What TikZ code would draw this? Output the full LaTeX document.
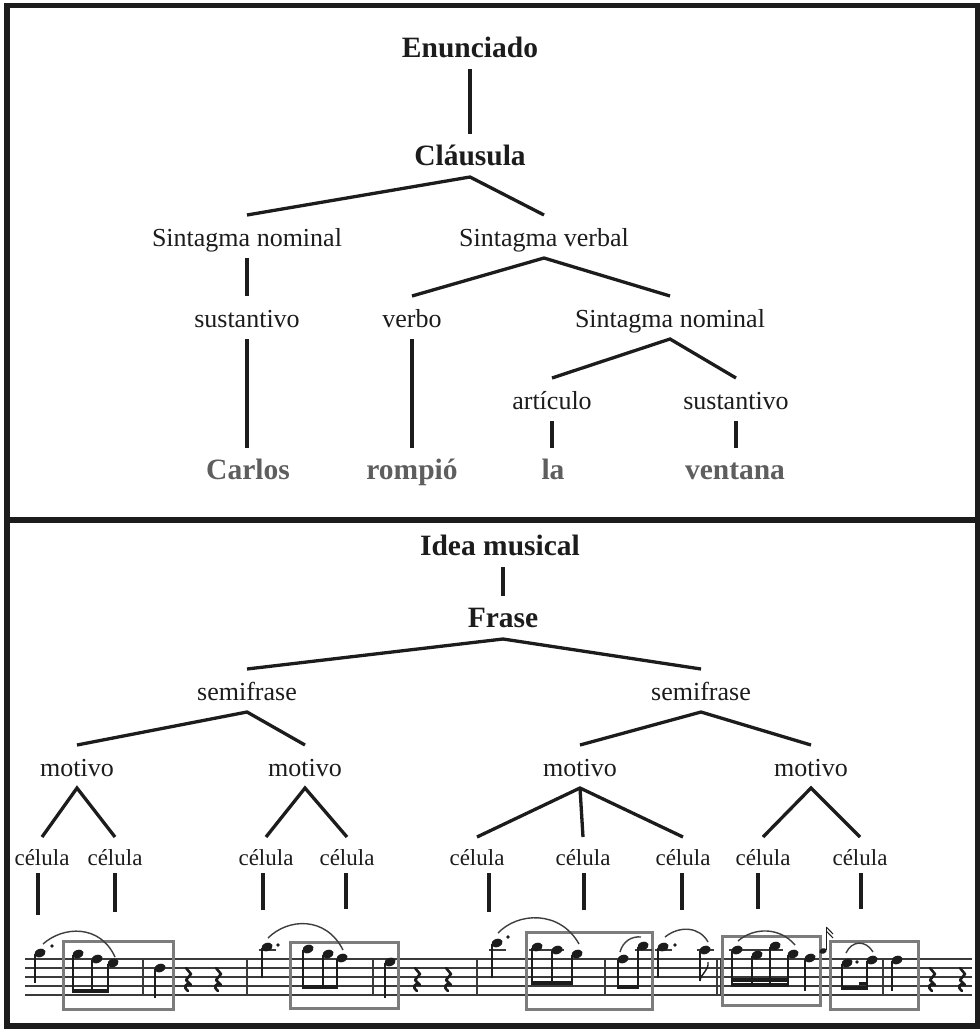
\documentclass[tikz,border=0pt]{standalone}
\usepackage{fontspec}
\setmainfont{Liberation Serif}
\definecolor{ink}{HTML}{1C1C1C}
\definecolor{wordgray}{HTML}{5E5E5E}
\definecolor{boxgray}{HTML}{7C7C7C}
\definecolor{staffgray}{HTML}{3A3A3A}
\newcommand\nhead[2]{\fill[ink,rotate around={20:(#1,#2)}] (#1,#2) ellipse [x radius=5.8pt, y radius=4.1pt];}
\newcommand\ghead[2]{\fill[ink,rotate around={20:(#1,#2)}] (#1,#2) ellipse [x radius=3.8pt, y radius=2.7pt];}
\newcommand\stemdn[3]{\draw[stemline] (#1-5.1,#2+0.5) -- (#1-5.1,#3);}
\newcommand\ndot[2]{\fill[ink] (#1,#2) circle (1.8pt);}
\newcommand\ledger[2]{\draw[staffline] (#1-8.5,#2) -- (#1+8.5,#2);}
\newcommand\qrest[1]{\draw[ink,line width=2.6pt,line join=round,line cap=round] (#1-2,968) -- (#1+3,974) -- (#1-2,980) -- (#1+3,985) .. controls (#1-3,982) and (#1-5,988) .. (#1,991);}
\begin{document}
\begin{tikzpicture}[x=1pt,y=-1pt,
  bt/.style={font=\fontsize{29.5}{31}\selectfont\bfseries, text=ink, anchor=base,
    text height=24pt, text depth=5pt, inner ysep=7pt, inner xsep=0pt, outer sep=0pt},
  rt/.style={font=\fontsize{26}{28}\selectfont, text=ink, anchor=base,
    text height=24pt, text depth=5pt, inner ysep=7pt, inner xsep=0pt, outer sep=0pt},
  gt/.style={bt, text=wordgray},
  ct/.style={font=\fontsize{23}{25}\selectfont, text=ink, anchor=base,
    text height=23pt, text depth=3pt, inner ysep=5pt, inner xsep=0pt, outer sep=0pt},
  edge/.style={draw=ink, line width=3.3pt},
  frame/.style={draw=ink, line width=5.5pt},
  staffline/.style={draw=staffgray, line width=1.1pt},
  barline/.style={draw=staffgray, line width=1.1pt},
  boxline/.style={draw=boxgray, line width=3pt},
  stemline/.style={draw=ink, line width=1.4pt},
  beamline/.style={draw=ink, line width=3.6pt},
  slur/.style={draw=ink!85, line width=1.4pt},
]
\useasboundingbox (0,0) rectangle (980,1029);
\fill[white] (0,0) rectangle (980,1029);
\draw[frame] (7,5.5) rectangle (977.5,1026);
\draw[frame] (7,520) -- (977.5,520);

% ---------- top tree ----------
\node[bt] (enun) at (470,57) {Enunciado};
\node[bt] (claus) at (470,165) {Cláusula};
\node[rt] (snl) at (247,246) {Sintagma nominal};
\node[rt] (sv) at (544,246) {Sintagma verbal};
\node[rt] (sust1) at (247,327) {sustantivo};
\node[rt] (verbo) at (412,327) {verbo};
\node[rt] (snr) at (670,327) {Sintagma nominal};
\node[rt] (art) at (552,409) {artículo};
\node[rt] (sust2) at (736,409) {sustantivo};
\node[gt] (carlos) at (248,479) {Carlos};
\node[gt] (rompio) at (412,479) {rompió};
\node[gt] (la) at (553,479) {la};
\node[gt] (ventana) at (735,479) {ventana};

\draw[edge] (enun.south) -- (claus.north);
\draw[edge] (snl.north) -- (claus.south) -- (sv.north);
\draw[edge] (snl.south) -- (sust1.north);
\draw[edge] (verbo.north) -- (sv.south) -- (snr.north);
\draw[edge] (art.north) -- (snr.south) -- (sust2.north);
\draw[edge] (sust1.south) -- (carlos.north -| sust1);
\draw[edge] (verbo.south) -- (rompio.north -| verbo);
\draw[edge] (art.south) -- (la.north -| art);
\draw[edge] (sust2.south) -- (ventana.north -| sust2);

% ---------- bottom tree ----------
\node[bt] (idea) at (500,555) {Idea musical};
\node[bt] (frase) at (503,627) {Frase};
\node[rt] (sf1) at (247,700) {semifrase};
\node[rt] (sf2) at (701,700) {semifrase};
\node[rt] (m1) at (77,776) {motivo};
\node[rt] (m2) at (305,776) {motivo};
\node[rt] (m3) at (580,776) {motivo};
\node[rt] (m4) at (811,776) {motivo};
\node[ct] (c1) at (42,865) {célula};
\node[ct] (c2) at (115,865) {célula};
\node[ct] (c3) at (266,865) {célula};
\node[ct] (c4) at (347,865) {célula};
\node[ct] (c5) at (477,865) {célula};
\node[ct] (c6) at (583,865) {célula};
\node[ct] (c7) at (683,865) {célula};
\node[ct] (c8) at (763,865) {célula};
\node[ct] (c9) at (860,865) {célula};

\draw[edge] (idea.south -| frase) -- (frase.north);
\draw[edge] (sf1.north) -- (frase.south) -- (sf2.north);
\draw[edge] (m1.north) -- (sf1.south) -- (m2.north);
\draw[edge] (m3.north) -- (sf2.south) -- (m4.north);
\draw[edge] (c1.north) -- (m1.south) -- (c2.north);
\draw[edge] (c3.north) -- (m2.south) -- (c4.north);
\draw[edge] (c5.north) -- (m3.south) -- (c7.north);
\draw[edge] (m3.south) -- (c6.north);
\draw[edge] (c8.north) -- (m4.south) -- (c9.north);

\coordinate (e1) at (38,915);
\coordinate (e2) at (115,912);
\coordinate (e3) at (263,910);
\coordinate (e4) at (346,909);
\coordinate (e5) at (489,912);
\coordinate (e6) at (584,910);
\coordinate (e7) at (682,910);
\coordinate (e8) at (758,909);
\coordinate (e9) at (861,909);
\foreach \i in {1,...,9} {\draw[edge] (c\i.south -| e\i) -- (e\i);}

% ---------- staff ----------
\foreach \y in {959,968,977,986,995} {\draw[staffline] (25,\y) -- (972,\y);}
\foreach \x in {143,247,373,477,605,717,720.5,883} {\draw[barline] (\x,959) -- (\x,995);}

% boxes
\draw[boxline] (63,941) rectangle (173,1009);
\draw[boxline] (290,942) rectangle (398,1008);
\draw[boxline] (526,932) rectangle (652,1009);
\draw[boxline] (722,936) rectangle (820,1005);
\draw[boxline] (830,941) rectangle (918,1009);

% segment 1
\nhead{40}{953}\stemdn{40}{953}{983}\ndot{52}{946}
\nhead{78}{954}\nhead{97}{959}\nhead{113}{963}
\stemdn{78}{954}{992}\stemdn{97}{959}{992}\stemdn{113}{963}{992}
\draw[beamline] (72.2,991) -- (108.6,991);
\draw[slur] (43,944) .. controls (63,926) and (100,924) .. (115,957);
\nhead{160}{968}\stemdn{160}{968}{998}
\qrest{188}\qrest{218}

% segment 2
\ledger{267}{950}
\nhead{267}{947}\stemdn{267}{947}{978}\ndot{278}{945}
\nhead{308}{949}\nhead{328}{954}\nhead{342}{958}
\stemdn{308}{949}{988}\stemdn{328}{954}{988}\stemdn{342}{958}{988}
\draw[beamline] (302.2,987) -- (337.6,987);
\draw[slur] (268,938) .. controls (288,918) and (326,916) .. (343,950);
\nhead{390}{962}\stemdn{390}{962}{998}
\qrest{417}\qrest{448}

% segment 3
\ledger{497}{950}
\nhead{497}{943}\stemdn{497}{943}{978}\ndot{508}{937}
\draw[slur] (498,933) .. controls (518,912) and (560,910) .. (579,944);
\draw[staffline] (529,950) -- (564,950);
\nhead{537}{947}\nhead{557}{950}\nhead{577}{954}
\stemdn{537}{947}{984}\stemdn{557}{950}{984}\stemdn{577}{954}{984}
\draw[beamline] (531.2,983) -- (572.6,983);
\ledger{643}{950}
\nhead{623}{959}\nhead{643}{946}
\stemdn{623}{959}{988}\stemdn{643}{946}{988}
\draw[beamline] (617.2,987) -- (638.6,987);
\draw[slur] (620,952) .. controls (623,941) and (632,936) .. (641,937);
\ledger{663}{950}
\nhead{663}{947}\stemdn{663}{947}{978}\ndot{675}{945}
\ledger{705}{950}
\nhead{705}{950}\stemdn{705}{950}{981}
\draw[stemline] (699.9,981) .. controls (701,973) and (709,971) .. (708,962);
\draw[slur] (665,937) .. controls (680,925) and (700,927) .. (708,942);

% box 4 notes
\draw[staffline] (729,950) -- (783,950);
\nhead{737}{950}\nhead{757}{955}\nhead{775}{946}\nhead{793}{954}
\stemdn{737}{950}{986}\stemdn{757}{955}{986}\stemdn{775}{946}{986}\stemdn{793}{954}{986}
\draw[beamline,line width=3.2pt] (731.2,980) -- (788.6,980);
\draw[beamline,line width=3.2pt] (731.2,985) -- (788.6,985);
\draw[slur] (738,941) .. controls (754,927) and (780,927) .. (795,945);
\nhead{810}{958}\stemdn{810}{958}{991}
% grace note
\ghead{823}{951}
\draw[stemline,line width=1pt] (826.3,950) -- (826.3,927);
\draw[stemline,line width=1pt] (826.3,927) -- (833,934);
\draw[stemline,line width=1pt] (826.3,931) -- (833,938);

% box 5 notes
\nhead{847}{963}\ndot{857}{962}\nhead{872}{960}
\stemdn{847}{963}{989}\stemdn{872}{960}{989}
\draw[beamline] (841.2,988) -- (867.6,988);
\draw[beamline,line width=3pt] (859,983) -- (867.6,983);
\draw[slur] (846,953) .. controls (852,940) and (866,940) .. (873,952);
\nhead{897}{960}\stemdn{897}{960}{991}
\qrest{932}\qrest{962}
\end{tikzpicture}
\end{document}
